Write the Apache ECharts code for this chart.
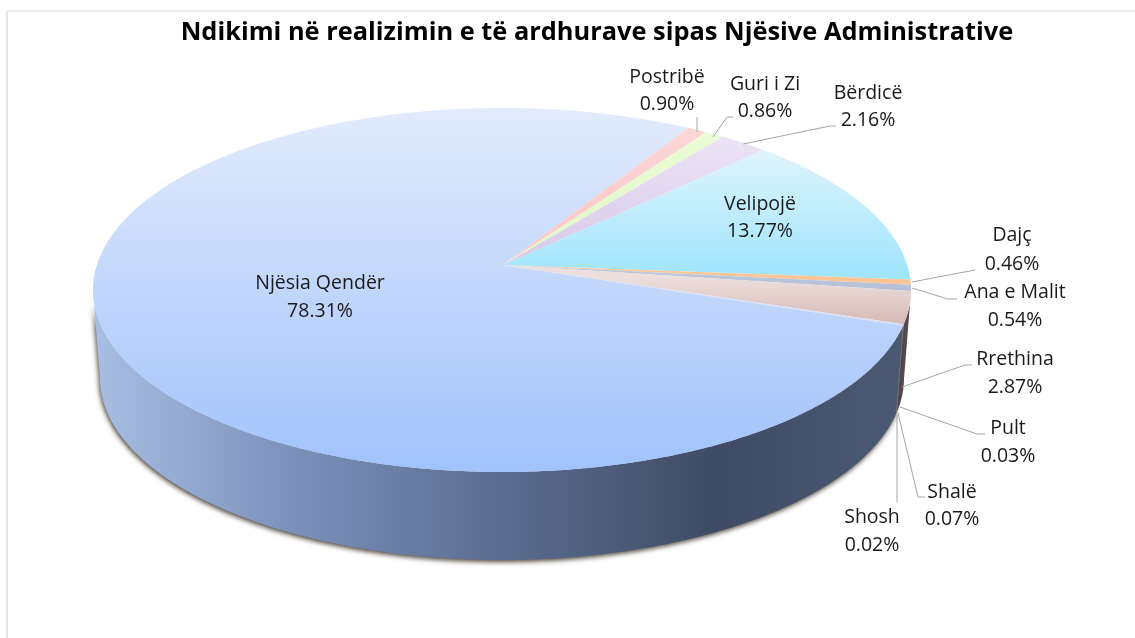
<!DOCTYPE html>
<html>
<head>
<meta charset="utf-8">
<title>Ndikimi</title>
<script src="https://cdn.jsdelivr.net/npm/echarts@6/dist/echarts.min.js"></script>
<style>
  html, body { margin: 0; padding: 0; background: #fff; }
  #chart { width: 1135px; height: 638px; }
</style>
</head>
<body>
<div id="chart"></div>
<script>
const titleText = 'Ndikimi në realizimin e të ardhurave sipas Njësive Administrative'

// slices, clockwise from the top edge of Velipojë
const categories = ['Velipojë', 'Dajç', 'Ana e Malit', 'Rrethina', 'Pult', 'Shalë', 'Shosh', 'Njësia Qendër', 'Postribë', 'Guri i Zi', 'Bërdicë']
const shares = [13.77, 0.46, 0.54, 2.87, 0.03, 0.07, 0.02, 78.31, 0.90, 0.86, 2.16]

const topColors = [
  ['#dff4fc', '#9de4fc'],
  ['#fdc79a', '#fcbd88'],
  ['#bcc8dc', '#b0bcd4'],
  ['#ecdedc', '#d6b9b5'],
  ['#cfdcf0', '#cfdcf0'],
  ['#cfdcf0', '#cfdcf0'],
  ['#cfdcf0', '#cfdcf0'],
  ['#e2ebfc', '#a1c2fb'],
  ['#fcd6d6', '#fbc6c6'],
  ['#eafbd6', '#e0f6c4'],
  ['#ebe3f5', '#d6c8e8']
]
const topRange = [
  [150, 282], [270, 300], [270, 300], [278, 325], [280, 330], [280, 330], [280, 330],
  [108, 472], [130, 265], [130, 265], [140, 265]
]
const wallStops = [
  [0, '#a9bee2'], [0.25, '#7a90b9'], [0.5, '#5a6d90'], [0.76, '#3f4b64'], [1, '#4c5a74']
]

// where each label sits: text centre, first and second line, then its leader line
const labelSpots = {
  'Velipojë': { x: 760, y: [204, 231] },
  'Dajç': { x: 1012, y: [235, 264], line: [[912, 282], [975, 270]] },
  'Ana e Malit': { x: 1015, y: [292, 320], line: [[912, 288], [948, 299], [957, 299]] },
  'Rrethina': { x: 1015, y: [359, 387], line: [[902, 387], [965, 365], [972, 365]] },
  'Pult': { x: 1008, y: [428, 456], line: [[900, 407], [977, 434], [985, 434]] },
  'Shalë': { x: 952, y: [492, 519], line: [[898, 413], [918, 497], [925, 497]] },
  'Shosh': { x: 872, y: [517, 545], line: [[897, 415], [897, 502]] },
  'Njësia Qendër': { x: 320, y: [283, 311] },
  'Postribë': { x: 667, y: [77, 104], line: [[697, 117], [697, 132]] },
  'Guri i Zi': { x: 765, y: [84, 111], line: [[733, 117], [727, 117], [713, 137]] },
  'Bërdicë': { x: 868, y: [93, 120], line: [[743, 144], [830, 126], [836, 126]] }
}

// pie disc on screen: ellipse plus the tilt that pushes the apex above its centre
const cx = 502, cy = 290, rx = 409, ry = 182
const apexShift = 25 / ry
const depth = 88, bottomShrink = 402 / 409
const startDeg = -45

const total = shares.reduce((a, b) => a + b, 0)
const slices = []
let running = startDeg
shares.forEach(v => {
  const sweep = v / total * 360
  slices.push([running, running + sweep])
  running += sweep
})

// a point of the flat disc seen through the tilt, in ellipse units
function tilt(deg) {
  const u = Math.cos(deg * Math.PI / 180), v = Math.sin(deg * Math.PI / 180)
  const d = 1 - apexShift * v
  return [u * Math.sqrt(1 - apexShift * apexShift) / d, (v - apexShift) / d]
}

function arc(from, to) {
  const pts = []
  const n = Math.max(2, Math.ceil((to - from) / 0.5))
  for (let i = 0; i <= n; i++) pts.push(tilt(from + (to - from) * i / n))
  return pts
}

function gradient(x, y, x2, y2, stops) {
  return new echarts.graphic.LinearGradient(x, y, x2, y2, stops, true)
}

function renderWall(params) {
  const [a, b] = slices[params.dataIndex]
  const front = arc(a, b).filter(p => p[1] >= 0)
  if (front.length < 2) return null
  const upper = front.map(p => [cx + rx * p[0], cy + ry * p[1]])
  const lower = front.map(p => [cx + rx * bottomShrink * p[0], cy + depth + ry * p[1]]).reverse()
  const isMain = categories[params.dataIndex] === 'Njësia Qendër'
  return {
    type: 'polygon',
    shape: { points: upper.concat(lower) },
    style: isMain ? {
      fill: gradient(93, 0, 911, 0, wallStops.map(s => ({ offset: s[0], color: s[1] }))),
      shadowBlur: 5,
      shadowColor: 'rgba(60,50,40,0.9)',
      shadowOffsetX: -1,
      shadowOffsetY: 2
    } : { fill: '#544a50' }
  }
}

function renderTop(params) {
  const i = params.dataIndex
  const [a, b] = slices[i]
  const pts = arc(a, b).map(p => [cx + rx * p[0], cy + ry * p[1]])
  pts.unshift([cx + 1, cy - ry * apexShift])
  return {
    type: 'polygon',
    shape: { points: pts },
    style: {
      fill: gradient(0, topRange[i][0], 0, topRange[i][1], [
        { offset: 0, color: topColors[i][0] },
        { offset: 1, color: topColors[i][1] }
      ])
    }
  }
}

function renderLabel(params) {
  const name = categories[params.dataIndex]
  const spot = labelSpots[name]
  const font = '19.5px "Open Sans", sans-serif'
  const text = (str, y) => ({
    type: 'text',
    style: { text: str, x: spot.x, y: y, fill: '#1a1a1a', font: font, align: 'center', verticalAlign: 'middle' }
  })
  const children = [
    text(name, spot.y[0]),
    text(shares[params.dataIndex].toFixed(2) + '%', spot.y[1])
  ]
  if (spot.line) {
    children.push({
      type: 'polyline',
      shape: { points: spot.line },
      style: { stroke: '#a6a6a6', lineWidth: 1, fill: null }
    })
  }
  return { type: 'group', children: children }
}

const chart = echarts.init(document.getElementById('chart'))
chart.setOption({
  animation: false,
  backgroundColor: '#fff',
  title: {
    text: titleText,
    left: 592,
    top: 15,
    textAlign: 'center',
    textStyle: { fontFamily: '"Open Sans", sans-serif', fontSize: 25.4, fontWeight: 'bold', color: '#000' }
  },
  graphic: [
    { type: 'line', shape: { x1: 7, y1: 11, x2: 1135, y2: 11 }, style: { stroke: '#e4e4e4', lineWidth: 1.5 } },
    { type: 'line', shape: { x1: 7, y1: 11, x2: 7, y2: 638 }, style: { stroke: '#e4e4e4', lineWidth: 2 } }
  ],
  series: [
    { type: 'custom', coordinateSystem: 'none', data: shares, renderItem: renderWall, z: 1, silent: true },
    { type: 'custom', coordinateSystem: 'none', data: shares, renderItem: renderTop, z: 2, silent: true },
    { type: 'custom', coordinateSystem: 'none', data: shares, renderItem: renderLabel, z: 3, silent: true }
  ]
})
</script>
</body>
</html>
